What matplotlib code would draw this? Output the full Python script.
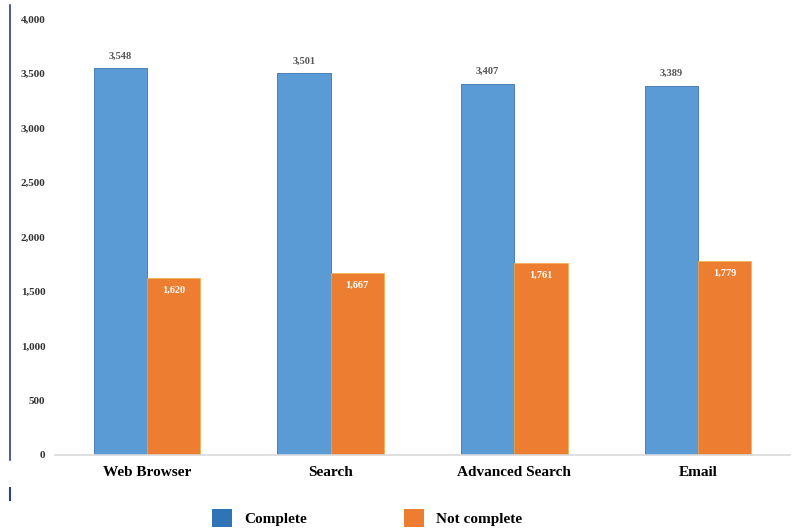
import numpy as np
import matplotlib.pyplot as plt
from matplotlib.lines import Line2D
from matplotlib.patches import Rectangle

categories = ["Web Browser", "Search", "Advanced Search", "Email"]
complete = [3548, 3501, 3407, 3389]
not_complete = [1620, 1667, 1761, 1779]
y_ticks = [0, 500, 1000, 1500, 2000, 2500, 3000, 3500, 4000]

blue = "#5B9BD5"
orange = "#ED7D31"
serif = ["Liberation Serif", "DejaVu Serif"]

fig = plt.figure(figsize=(7.94, 5.31), dpi=100)
ax = fig.add_axes([55 / 794, 76 / 531, 735 / 794, 436 / 531])

x = np.arange(len(categories))
w = 0.29
b1 = ax.bar(x - w / 2, complete, w, color=blue, edgecolor="#4A7FB5", linewidth=0.7)
b2 = ax.bar(x + w / 2, not_complete, w, color=orange, edgecolor="#F5B041", linewidth=0.5)

for rect, v in zip(b1, complete):
    ax.text(rect.get_x() + rect.get_width() / 2, v + 70, f"{v:,}",
            ha="center", va="bottom", fontsize=7.5, color="#555555",
            family=serif, fontweight="bold")
for rect, v in zip(b2, not_complete):
    ax.text(rect.get_x() + rect.get_width() / 2, v - 110, f"{v:,}",
            ha="center", va="center", fontsize=7.5, color="white",
            family=serif, fontweight="bold")

ax.set_xlim(-0.5, 3.5)
ax.set_ylim(0, 4000)
ax.set_xticks(x)
ax.set_xticklabels(categories, family=serif, fontweight="bold", fontsize=11)
ax.set_yticks(y_ticks)
ax.set_yticklabels([f"{t:,}" for t in y_ticks], family=serif,
                   fontweight="bold", fontsize=8, color="#333333")
ax.tick_params(length=0)
ax.tick_params(axis="x", pad=8)
ax.tick_params(axis="y", pad=7)
for side in ["top", "right", "left"]:
    ax.spines[side].set_visible(False)
ax.spines["bottom"].set_color("#D9D9D9")
ax.spines["bottom"].set_linewidth(1.2)

# left rule running down the side of the figure
fig.add_artist(Line2D([10 / 794, 10 / 794], [1 - 5 / 531, 1 - 460 / 531],
                      color="#2F3F8F", linewidth=1.2))
fig.add_artist(Line2D([10 / 794, 10 / 794], [1 - 488 / 531, 1 - 500 / 531],
                      color="#2F3F8F", linewidth=1.5))

# legend
for x0, col, label in [(212, "#2F75B5", "Complete"), (404, orange, "Not complete")]:
    fig.add_artist(Rectangle((x0 / 794, 1 - 527 / 531), 20 / 794, 18 / 531,
                             facecolor=col, edgecolor="none",
                             transform=fig.transFigure))
    fig.text((x0 + 32) / 794, 1 - 519 / 531, label, family=serif,
             fontweight="bold", fontsize=11, va="center", ha="left")

fig.savefig("out.png", dpi=100)
